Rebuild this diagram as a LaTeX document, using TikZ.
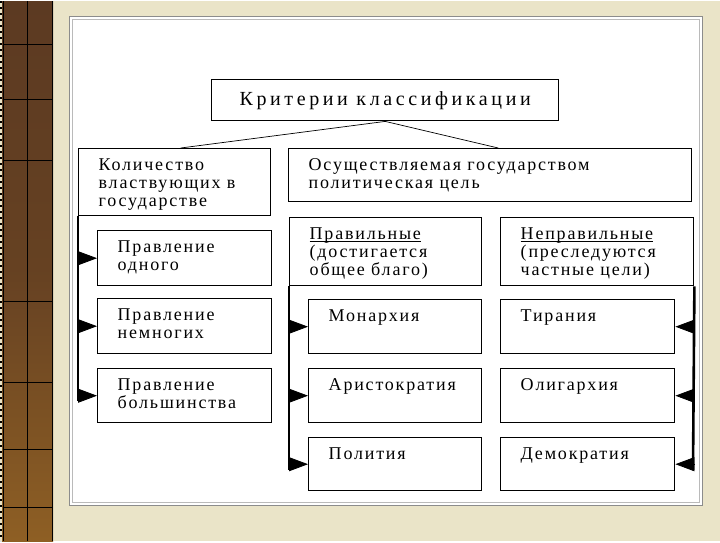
\documentclass[tikz,border=0pt]{standalone}
\usepackage{fontspec}
\setmainfont{Liberation Serif}[LetterSpace=10]
\newfontfamily\titlefont{Liberation Serif}[LetterSpace=18]
\usepackage{tikz}
\usetikzlibrary{positioning,arrows.meta,calc}
\definecolor{slideBeige}{HTML}{EAE4C8}
\definecolor{woodDark}{HTML}{5C3A22}
\definecolor{woodLight}{HTML}{8E5F24}
\definecolor{panelGrey}{HTML}{8C8C8C}
\tikzset{
  bar/.style={line width=2.6pt},
  arr/.style={-{Triangle[length=19pt,width=14pt]}, line width=0.8pt},
  thinline/.style={line width=0.7pt}
}
\newcommand{\cbox}[6]{%
 \node[draw, line width=1.4pt, anchor=north west, inner sep=0pt, fill=white, font=\fontsize{18}{18}\selectfont] (#5) at (#1,#2) {\parbox[t][#4pt][t]{#3pt}{\raggedright\leftskip=20pt\rule{0pt}{22pt}#6}};}
\newcommand{\uword}[1]{\setbox0\hbox{#1}\rlap{\rule[-2pt]{\wd0}{0.8pt}}\box0}

\begin{document}
\begin{tikzpicture}[x=1pt,y=-1pt]
\fill[slideBeige] (0,0) rectangle (720,540);
\shade[top color=woodDark, bottom color=woodLight, middle color=woodDark!80!woodLight] (2,0) rectangle (53,540);
\draw[line width=1pt] (3,0) -- (3,540) (27,0) -- (27,540) (52,0) -- (52,540);
\foreach \yy in {43,98,159,300,381,448,506}
  \draw[line width=0.8pt] (3,\yy) -- (52,\yy);
\draw[line width=2pt, dash pattern=on 2pt off 4pt] (1,0) -- (1,540);
\fill[white] (69,15) rectangle (702,504);
\draw[panelGrey, line width=1pt] (69,15) rectangle (702,504);
\draw[panelGrey!60, line width=0.8pt] (72,18) rectangle (699,501);

\node[draw, line width=1.4pt, anchor=north west, minimum width=347pt, minimum height=41pt, fill=white, font=\titlefont\fontsize{20}{22}\selectfont] (crit) at (211,78) {Критерии классификации};

\cbox{78}{147}{192}{67}{qty}{Количество\\властвующих в\\государстве}
\cbox{288}{147}{403}{53}{aim}{Осуществляемая государством\\политическая цель}
\cbox{97}{229}{174}{55}{one}{Правление\\одного}
\cbox{97}{297}{174}{55}{few}{Правление\\немногих}
\cbox{97}{367}{174}{54}{many}{Правление\\большинства}
\cbox{289}{216}{192}{68}{good}{\uword{Правильные}\\(достигается\\общее благо)}
\cbox{500}{216}{193}{68}{bad}{\uword{Неправильные}\\(преследуются\\частные цели)}
\cbox{308}{298}{173}{54}{mon}{Монархия}
\cbox{308}{367}{173}{54}{ari}{Аристократия}
\cbox{308}{436}{173}{53}{pol}{Полития}
\cbox{500}{298}{174}{54}{tyr}{Тирания}
\cbox{500}{367}{174}{54}{oli}{Олигархия}
\cbox{500}{436}{174}{53}{dem}{Демократия}

\draw[thinline] (crit.south) -- ([xshift=6pt]qty.north);
\draw[thinline] (crit.south) -- ([xshift=8pt]aim.north);

\coordinate (qtyEnd) at (78,400);
\coordinate (goodEnd) at (289,469);
\coordinate (badEnd) at (693,469);
\draw[bar] (qty.south west) -- (qtyEnd);
\draw[bar] (good.south west) -- (goodEnd);
\draw[bar] (bad.south east) -- (badEnd);
\foreach \b in {one,few,many}
  \draw[arr] (qty.south west |- \b.west) -- (\b.west);
\foreach \b in {mon,ari,pol}
  \draw[arr] (good.south west |- \b.west) -- (\b.west);
\foreach \b in {tyr,oli,dem}
  \draw[arr] (bad.south east |- \b.east) -- (\b.east);
\end{tikzpicture}
\end{document}
